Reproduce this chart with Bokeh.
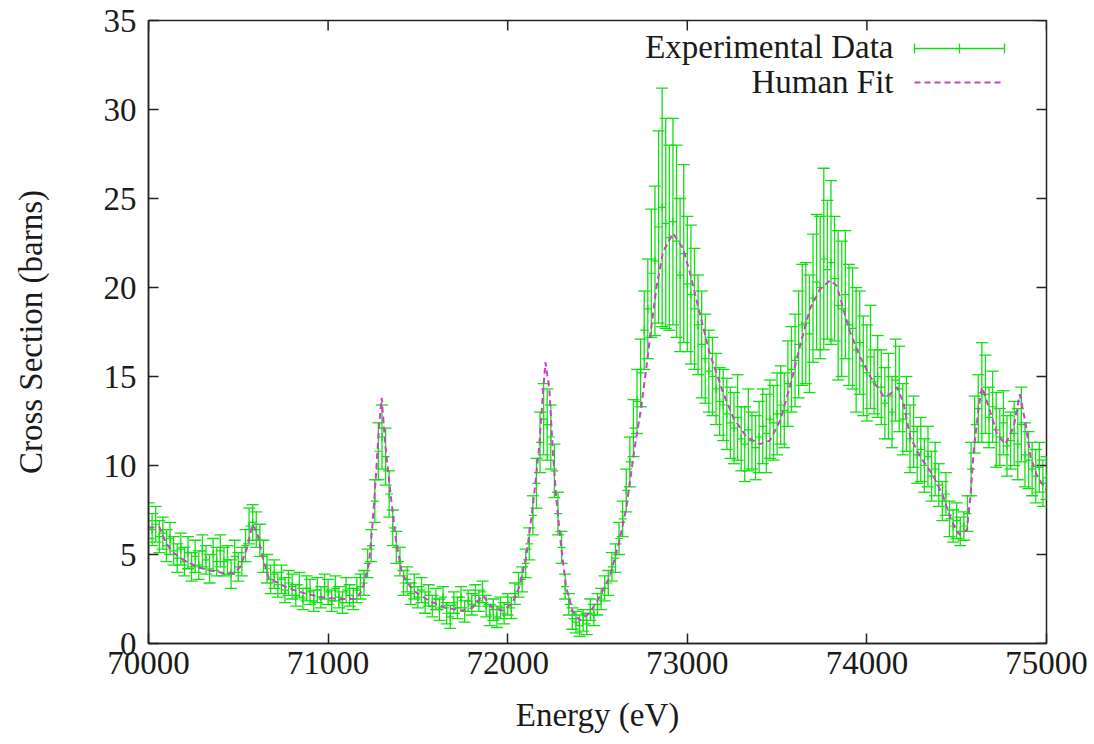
from bokeh.plotting import figure
from bokeh.models import (Range1d, FixedTicker, Whisker, TeeHead,
                          ColumnDataSource, Label, Arrow)
from bokeh.embed import file_html
from bokeh.resources import INLINE

# ---------------- data ----------------
energy = list(range(70000, 75001, 20))

cross_section = (
    [6.9, 6.4, 6.7, 6.0, 6.2, 5.5, 5.9, 5.2, 4.8, 5.3] +
    [4.6, 5.1, 4.3, 4.9, 4.4, 5.2, 4.7, 4.2, 5.0, 4.6] +
    [5.2, 4.6, 4.7, 3.9, 4.9, 4.3, 4.6, 5.5, 6.6, 6.8] +
    [6.4, 5.8, 4.9, 4.2, 3.6, 3.9, 3.3, 3.6, 3.0, 3.4] +
    [3.2, 2.7, 3.3, 2.5, 3.1, 2.9, 2.4, 3.0, 2.6, 3.2] +
    [2.9, 2.4, 3.1, 2.6, 2.3, 3.0, 2.7, 2.5, 3.0, 3.2] +
    [3.4, 4.5, 5.5, 8.0, 10.8, 11.6, 10.5, 8.4, 6.5, 5.4] +
    [4.6, 3.4, 3.6, 2.8, 3.2, 2.6, 3.0, 2.3, 2.7, 2.1] +
    [2.5, 1.9, 2.6, 1.7, 1.5, 2.3, 2.0, 2.6, 1.8, 2.4] +
    [2.2, 2.7, 2.4, 2.9, 2.1, 1.6, 1.9, 1.5, 2.0, 1.7] +
    [2.2, 2.0, 2.8, 3.3, 3.6, 4.5, 5.6, 7.2, 9.0, 11.3] +
    [12.6, 12.3, 11.6, 9.7, 7.3, 5.4, 3.2, 2.2, 1.4, 1.2] +
    [1.0, 1.3, 1.1, 1.9, 1.6, 2.2, 2.5, 3.1, 3.4, 4.3] +
    [4.8, 5.9, 7.0, 8.6, 10.2, 12.1, 13.6, 15.2, 17.6, 18.8] +
    [20.8, 21.5, 23.4, 24.5, 23.6, 22.8, 23.7, 22.6, 20.7, 21.9] +
    [20.2, 19.6, 18.8, 17.9, 16.8, 16.0, 15.3, 15.0, 14.3, 13.6] +
    [13.4, 12.9, 12.4, 12.1, 12.7, 11.5, 11.2, 12.0, 11.4, 11.0] +
    [11.6, 12.2, 11.8, 12.6, 12.4, 12.9, 13.4, 13.1, 14.6, 15.4] +
    [15.9, 16.8, 17.9, 18.0, 17.4, 19.4, 20.3, 20.0, 21.6, 21.0] +
    [21.4, 20.5, 19.0, 18.8, 19.6, 17.9, 17.7, 16.5, 16.9, 15.6] +
    [15.2, 16.1, 14.7, 15.0, 14.4, 13.5, 13.9, 13.0, 14.8, 14.3] +
    [12.6, 12.9, 11.5, 11.9, 10.6, 10.9, 10.0, 10.5, 9.4, 9.8] +
    [8.9, 8.0, 8.4, 7.0, 6.6, 6.9, 6.3, 6.6, 7.3, 9.8] +
    [12.3, 13.2, 14.1, 14.0, 12.7, 13.3, 12.0, 11.6, 12.4, 11.1] +
    [11.4, 11.8, 11.2, 12.3, 10.6, 10.3, 9.8, 9.4, 9.9, 9.0] +
    [9.3]
)

error = (
    [1.0, 0.9, 1.0, 0.9, 0.9, 0.9, 0.9, 0.8, 0.8, 0.9] +
    [0.8, 0.9, 0.8, 0.9, 0.8, 0.9, 0.8, 0.8, 0.9, 0.8] +
    [0.9, 0.8, 0.8, 0.8, 0.9, 0.8, 0.8, 0.9, 1.0, 1.0] +
    [1.0, 0.9, 0.9, 0.8, 0.8, 0.8, 0.7, 0.8, 0.7, 0.7] +
    [0.7, 0.6, 0.7, 0.6, 0.7, 0.7, 0.6, 0.7, 0.6, 0.7] +
    [0.7, 0.6, 0.7, 0.6, 0.6, 0.7, 0.6, 0.6, 0.7, 0.7] +
    [0.7, 0.8, 0.9, 1.2, 1.6, 1.8, 1.6, 1.3, 1.0, 0.9] +
    [0.8, 0.7, 0.7, 0.6, 0.7, 0.6, 0.7, 0.6, 0.6, 0.6] +
    [0.6, 0.6, 0.6, 0.6, 0.65, 0.6, 0.6, 0.6, 0.6, 0.6] +
    [0.6, 0.6, 0.6, 0.6, 0.6, 0.6, 0.6, 0.6, 0.6, 0.6] +
    [0.6, 0.6, 0.6, 0.7, 0.7, 0.8, 0.9, 1.1, 1.4, 1.7] +
    [2.0, 2.0, 1.8, 1.5, 1.2, 0.9, 0.7, 0.6, 0.6, 0.6] +
    [0.6, 0.6, 0.6, 0.6, 0.6, 0.6, 0.6, 0.7, 0.7, 0.8] +
    [0.8, 0.9, 1.0, 1.2, 1.4, 1.6, 1.8, 1.9, 2.2, 2.8] +
    [3.6, 4.2, 5.4, 6.7, 5.9, 5.2, 5.8, 5.4, 4.3, 5.0] +
    [3.8, 3.9, 3.4, 2.8, 3.0, 2.5, 2.3, 2.2, 2.0, 1.9] +
    [2.0, 2.0, 2.0, 2.0, 2.4, 1.8, 2.1, 2.3, 1.6, 1.8] +
    [2.0, 2.1, 2.2, 2.2, 2.1, 2.3, 2.2, 2.1, 2.4, 2.4] +
    [2.6, 3.0, 3.4, 3.4, 3.3, 3.6, 3.8, 4.0, 5.1, 3.9] +
    [4.6, 3.5, 4.2, 3.8, 3.6, 3.4, 3.4, 3.5, 2.9, 2.8] +
    [2.7, 2.9, 1.8, 2.3, 2.1, 2.0, 2.4, 2.0, 2.3, 2.4] +
    [2.0, 2.1, 1.9, 2.0, 1.6, 1.8, 1.5, 1.7, 1.4, 1.5] +
    [1.2, 1.1, 1.2, 1.0, 0.9, 1.0, 0.8, 0.8, 1.0, 1.5] +
    [1.6, 1.9, 2.8, 2.2, 1.7, 2.0, 2.1, 1.6, 1.8, 1.7] +
    [1.6, 1.8, 2.0, 2.1, 1.8, 1.6, 1.5, 1.5, 1.4, 1.3] +
    [1.2]
)

fit_energy = [70000, 70060, 70100, 70140, 70195, 70270, 70345, 70420, 70475, 70510,
              70550, 70578, 70605, 70635, 70670, 70690, 70780, 70875, 70965, 71060,
              71155, 71190, 71228, 71245, 71265, 71282, 71298, 71320, 71350, 71378,
              71412, 71470, 71562, 71655, 71747, 71803, 71835, 71860, 71885, 71915,
              71970, 72026, 72065, 72103, 72140, 72175, 72195, 72210, 72232, 72250,
              72270, 72298, 72325, 72360, 72400, 72455, 72510, 72567, 72623, 72660,
              72707, 72744, 72772, 72800, 72828, 72865, 72920, 72976, 73013, 73051,
              73088, 73125, 73162, 73199, 73255, 73330, 73404, 73460, 73516, 73571,
              73627, 73683, 73739, 73795, 73832, 73869, 73906, 73962, 74018, 74092,
              74129, 74167, 74204, 74241, 74297, 74371, 74427, 74464, 74500, 74520,
              74557, 74576, 74595, 74623, 74641, 74678, 74724, 74771, 74818, 74851,
              74883, 74911, 74948, 75000]
fit_value = [6.5, 6.55, 5.6, 5.1, 4.7, 4.3, 4.1, 3.95, 3.95, 4.3,
             5.4, 6.7, 6.2, 4.85, 3.65, 3.55, 3.1, 2.8, 2.6, 2.5,
             2.5, 3.0, 4.5, 6.4, 9.2, 12.0, 13.8, 11.0, 8.2, 5.8,
             3.9, 3.0, 2.4, 2.0, 1.85, 2.0, 2.4, 2.7, 2.4, 2.0,
             1.85, 2.25, 3.2, 4.85, 7.7, 11.0, 13.9, 15.8, 14.3, 11.0,
             8.2, 5.4, 3.2, 1.85, 1.3, 1.7, 2.6, 3.7, 5.8, 7.6,
             11.0, 13.3, 15.5, 17.8, 20.0, 22.0, 23.05, 22.2, 20.9, 19.3,
             17.8, 16.3, 15.2, 14.1, 12.7, 11.6, 11.2, 11.4, 12.5, 14.4,
             16.7, 18.8, 19.9, 20.4, 20.1, 18.8, 17.5, 16.1, 15.0, 13.9,
             14.0, 14.4, 13.5, 11.6, 10.5, 9.4, 8.2, 7.1, 6.3, 6.1,
             6.4, 8.2, 10.9, 13.3, 14.4, 13.3, 11.8, 11.2, 12.2, 14.0,
             12.4, 10.5, 9.4, 8.6]

x_ticks = [70000, 71000, 72000, 73000, 74000, 75000]
y_ticks = [0, 5, 10, 15, 20, 25, 30, 35]

x_label = "Energy (eV)"
y_label = "Cross Section (barns)"
legend_labels = ["Experimental Data", "Human Fit"]

# ---------------- style ----------------
GREEN = "#10e010"
MAGENTA = "#cc40cc"
FONT = "Liberation Serif"
FS = "33px"
TEXT = "#1a1a1a"
FRAME = "#222222"

W, H = 1090, 740
FL, FR, FT, FB = 148, 1046, 20, 643   # frame edges in figure pixels
X0, X1, Y0, Y1 = 70000, 75000, 0, 35
TICK = 10


def dx(px):  # figure pixel -> data x
    return X0 + (px - FL) / (FR - FL) * (X1 - X0)


def dy(py):  # figure pixel -> data y
    return Y0 + (FB - py) / (FB - FT) * (Y1 - Y0)


p = figure(width=W, height=H, output_backend="svg", toolbar_location=None,
           x_range=Range1d(X0, X1), y_range=Range1d(Y0, Y1),
           min_border_left=FL, min_border_right=W - FR,
           min_border_top=FT, min_border_bottom=H - FB)
p.background_fill_color = "white"
p.border_fill_color = "white"
p.outline_line_color = FRAME
p.outline_line_width = 1.5
p.xgrid.visible = False
p.ygrid.visible = False

for ax in (p.xaxis[0], p.yaxis[0]):
    ax.major_label_text_font = FONT
    ax.major_label_text_font_size = FS
    ax.major_label_text_color = TEXT
    ax.major_tick_in = TICK
    ax.major_tick_out = 0
    ax.minor_tick_in = 0
    ax.minor_tick_out = 0
    ax.axis_line_color = FRAME
    ax.axis_line_width = 1.5
    ax.major_tick_line_color = FRAME
    ax.major_tick_line_width = 1.5
    ax.axis_label_text_font = FONT
    ax.axis_label_text_font_size = FS
    ax.axis_label_text_font_style = "normal"
    ax.axis_label_text_color = TEXT
p.xaxis[0].ticker = FixedTicker(ticks=x_ticks)
p.yaxis[0].ticker = FixedTicker(ticks=y_ticks)
p.xaxis[0].major_label_standoff = 8
p.yaxis[0].major_label_standoff = 12
p.xaxis[0].axis_label = x_label
p.xaxis[0].axis_label_standoff = 20
p.yaxis[0].axis_label = y_label
p.yaxis[0].axis_label_standoff = 52

# mirrored inward ticks on the right and top edges
tick_w = (X1 - X0) * TICK / (FR - FL)
tick_h = (Y1 - Y0) * TICK / (FB - FT)
p.segment(x0=[X1] * len(y_ticks), y0=y_ticks, x1=[X1 - tick_w] * len(y_ticks), y1=y_ticks,
          line_color=FRAME, line_width=1.5)
p.segment(x0=x_ticks, y0=[Y1] * len(x_ticks), x1=x_ticks, y1=[Y1 - tick_h] * len(x_ticks),
          line_color=FRAME, line_width=1.5)

# ---------------- data marks ----------------
src = ColumnDataSource(dict(
    energy=energy, cs=cross_section,
    lo=[v - e for v, e in zip(cross_section, error)],
    hi=[v + e for v, e in zip(cross_section, error)],
))
wh = Whisker(base="energy", lower="lo", upper="hi", source=src, dimension="height",
             line_color=GREEN, line_width=1.3,
             lower_head=TeeHead(size=12, line_color=GREEN, line_width=1.3),
             upper_head=TeeHead(size=12, line_color=GREEN, line_width=1.3))
p.add_layout(wh)
p.scatter("energy", "cs", source=src, marker="cross", size=8,
          line_color=GREEN, line_width=1.2)

p.line(fit_energy, fit_value, line_color=MAGENTA, line_width=2, line_dash="6 4")

# ---------------- legend (gnuplot style: text, then sample) ----------------
p.add_layout(Label(x=dx(893), y=dy(46), text=legend_labels[0],
                   text_align="right", text_baseline="middle",
                   text_font=FONT, text_font_size=FS, text_color=TEXT))
p.add_layout(Label(x=dx(893), y=dy(81), text=legend_labels[1],
                   text_align="right", text_baseline="middle",
                   text_font=FONT, text_font_size=FS, text_color=TEXT))
p.add_layout(Arrow(x_start=dx(914), y_start=dy(48), x_end=dx(1004), y_end=dy(48),
                   start=TeeHead(size=10, line_color=GREEN, line_width=1.3),
                   end=TeeHead(size=10, line_color=GREEN, line_width=1.3),
                   line_color=GREEN, line_width=1.3))
p.add_layout(Arrow(x_start=dx(959), y_start=dy(43), x_end=dx(959), y_end=dy(53),
                   end=None, line_color=GREEN, line_width=1.3))
p.add_layout(Arrow(x_start=dx(914), y_start=dy(82), x_end=dx(1004), y_end=dy(82),
                   end=None, line_color=MAGENTA, line_width=2, line_dash="6 4"))

open("out.html", "w").write(file_html(p, INLINE))
